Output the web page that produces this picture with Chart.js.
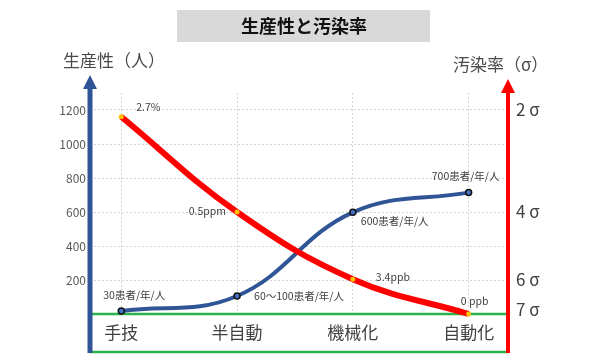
<!DOCTYPE html>
<html>
<head>
<meta charset="utf-8">
<script src="https://cdn.jsdelivr.net/npm/chart.js@4.4.0/dist/chart.umd.min.js"></script>
<style>
  html, body { margin: 0; background: #fff; }
</style>
</head>
<body>
<canvas id="chart" width="600" height="360"></canvas>
<script>
const categories = ['手技', '半自動', '機械化', '自動化']
const productivity = [18, 106, 598, 714]
const pollution = [1160, 600, 205, 0]
const productivityLabels = ['30患者/年/人', '60～100患者/年/人', '600患者/年/人', '700患者/年/人']
const pollutionLabels = ['2.7%', '0.5ppm', '3.4ppb', '0 ppb']
const leftTicks = [200, 400, 600, 800, 1000, 1200]
const sigmaTicks = [1200, 600, 205, 25]
const sigmaLabels = ['2 σ', '4 σ', '6 σ', '7 σ']

const JP = '"Noto Sans CJK JP", "Noto Sans", sans-serif'
const BLUE = '#2f5597'
const RED = '#ff0000'
const GREEN = '#2ab34a'

// title box, axis arrows, green base lines and point labels
const decor = {
  id: 'decor',
  beforeDraw(chart) {
    const ctx = chart.ctx
    ctx.save()
    ctx.fillStyle = '#d9d9d9'
    ctx.fillRect(177, 10, 253, 32)
    ctx.fillStyle = '#111'
    ctx.font = 'bold 18px ' + JP
    ctx.textAlign = 'center'
    ctx.textBaseline = 'middle'
    ctx.fillText('生産性と汚染率', 304, 26)

    ctx.fillStyle = '#4a4a4a'
    ctx.font = '17px ' + JP
    ctx.textAlign = 'left'
    ctx.fillText('生産性（人）', 63, 61)
    ctx.fillText('汚染率（σ）', 453, 65)
    ctx.restore()
  },
  beforeDatasetsDraw(chart) {
    const ctx = chart.ctx
    const a = chart.chartArea
    ctx.save()
    ctx.strokeStyle = GREEN
    ctx.lineWidth = 2.5
    ctx.beginPath()
    ctx.moveTo(a.left, a.bottom)
    ctx.lineTo(a.right, a.bottom)
    ctx.moveTo(a.left, 352)
    ctx.lineTo(a.right, 352)
    ctx.stroke()
    ctx.restore()
  },
  afterDraw(chart) {
    const ctx = chart.ctx
    const a = chart.chartArea
    ctx.save()
    // left axis arrow
    ctx.strokeStyle = BLUE
    ctx.fillStyle = BLUE
    ctx.lineWidth = 5
    ctx.beginPath()
    ctx.moveTo(a.left, 353)
    ctx.lineTo(a.left, 86)
    ctx.stroke()
    ctx.beginPath()
    ctx.moveTo(a.left, 75)
    ctx.lineTo(a.left - 7, 89)
    ctx.lineTo(a.left + 7, 89)
    ctx.closePath()
    ctx.fill()
    // right axis arrow
    ctx.strokeStyle = RED
    ctx.fillStyle = RED
    ctx.lineWidth = 4
    ctx.beginPath()
    ctx.moveTo(a.right, 353)
    ctx.lineTo(a.right, 90)
    ctx.stroke()
    ctx.beginPath()
    ctx.moveTo(a.right, 79)
    ctx.lineTo(a.right - 7, 93)
    ctx.lineTo(a.right + 7, 93)
    ctx.closePath()
    ctx.fill()

    // point labels
    ctx.fillStyle = '#404040'
    ctx.font = '10.5px ' + JP
    ctx.textBaseline = 'middle'
    const redOff = [[15, -10, 'left'], [-11, -1, 'right'], [23, -2, 'left'], [6, -13, 'center']]
    const blueOff = [[-18, -16, 'left'], [17, 0, 'left'], [8, 9, 'left'], [-3, -17, 'center']]
    chart.getDatasetMeta(0).data.forEach((p, i) => {
      ctx.textAlign = redOff[i][2]
      ctx.fillText(pollutionLabels[i], p.x + redOff[i][0], p.y + redOff[i][1])
    })
    chart.getDatasetMeta(1).data.forEach((p, i) => {
      ctx.textAlign = blueOff[i][2]
      ctx.fillText(productivityLabels[i], p.x + blueOff[i][0], p.y + blueOff[i][1])
    })
    ctx.restore()
  }
}

const config = {
  type: 'line',
  data: {
    datasets: [
      {
        label: '汚染率',
        data: pollution.map((v, i) => ({ x: i, y: v })),
        borderColor: RED,
        borderWidth: 6,
        tension: 0.4,
        pointRadius: 2.5,
        pointBackgroundColor: '#ffc000',
        pointBorderColor: '#ffc000',
        pointBorderWidth: 0,
        clip: false,
      },
      {
        label: '生産性',
        data: productivity.map((v, i) => ({ x: i, y: v })),
        borderColor: BLUE,
        borderWidth: 4,
        tension: 0.4,
        pointRadius: 3,
        pointBackgroundColor: '#4472c4',
        pointBorderColor: '#111',
        pointBorderWidth: 1.5,
        clip: false,
      },
    ],
  },
  options: {
    responsive: false,
    animation: false,
    layout: { padding: { top: 93, left: 0, right: 0, bottom: 0 } },
    plugins: {
      legend: { display: false },
      tooltip: { enabled: false },
    },
    scales: {
      x: {
        type: 'linear',
        min: -0.27,
        max: 3.34,
        afterBuildTicks: s => { s.ticks = categories.map((c, i) => ({ value: i })) },
        afterFit: s => { s.height = 46 },
        ticks: {
          callback: v => categories[v],
          font: { size: 17, family: JP },
          color: '#404040',
          padding: 8,
          maxRotation: 0,
        },
        grid: { color: '#d4d4d4', drawTicks: false },
        border: { display: false, dash: [2, 2] },
      },
      y: {
        position: 'left',
        min: 0,
        max: 1300,
        afterBuildTicks: s => { s.ticks = leftTicks.map(v => ({ value: v })) },
        afterFit: s => { s.width = 90 },
        ticks: {
          callback: v => String(v),
          font: { size: 12, family: JP },
          color: '#595959',
          padding: 4,
        },
        grid: { color: '#d4d4d4', drawTicks: false },
        border: { display: false, dash: [2, 2] },
      },
      y2: {
        position: 'right',
        min: 0,
        max: 1300,
        afterBuildTicks: s => { s.ticks = sigmaTicks.map(v => ({ value: v })) },
        afterFit: s => { s.width = 92 },
        ticks: {
          callback: (v, i) => sigmaLabels[i],
          font: { size: 17, family: JP },
          color: '#404040',
          padding: 8,
        },
        grid: { display: false, drawTicks: false },
        border: { display: false },
      },
    },
  },
  plugins: [decor],
}

const ctx = document.getElementById('chart')
window.myChart = new Chart(ctx, config)
</script>
</body>
</html>
